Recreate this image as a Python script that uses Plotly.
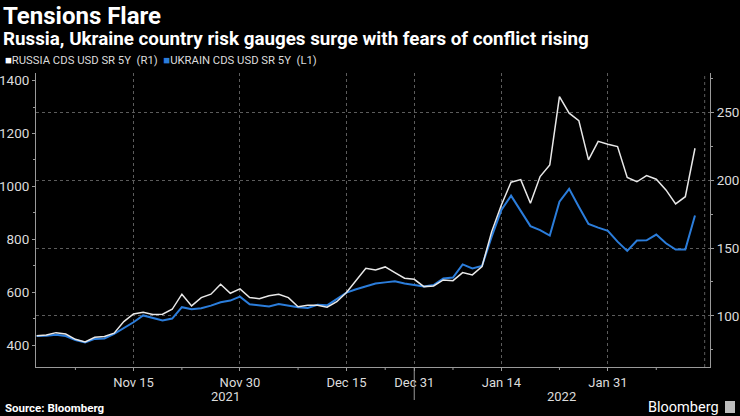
import plotly.graph_objects as go

# ---- data ----
dates = [
    "2021-11-01", "2021-11-02", "2021-11-03", "2021-11-04", "2021-11-05",
    "2021-11-08", "2021-11-09", "2021-11-10", "2021-11-11", "2021-11-12",
    "2021-11-15", "2021-11-16", "2021-11-17", "2021-11-18", "2021-11-19",
    "2021-11-22", "2021-11-23", "2021-11-24", "2021-11-25", "2021-11-26",
    "2021-11-29", "2021-11-30", "2021-12-01", "2021-12-02", "2021-12-03",
    "2021-12-06", "2021-12-07", "2021-12-08", "2021-12-09", "2021-12-10",
    "2021-12-13", "2021-12-14", "2021-12-15", "2021-12-16", "2021-12-17",
    "2021-12-20", "2021-12-21", "2021-12-22", "2021-12-23", "2021-12-31",
    "2022-01-04", "2022-01-05", "2022-01-06", "2022-01-07",
    "2022-01-10", "2022-01-11", "2022-01-12", "2022-01-13", "2022-01-14",
    "2022-01-17", "2022-01-18", "2022-01-19", "2022-01-20", "2022-01-21",
    "2022-01-24", "2022-01-25", "2022-01-26", "2022-01-27", "2022-01-28",
    "2022-01-31", "2022-02-01", "2022-02-02", "2022-02-03", "2022-02-04",
    "2022-02-07", "2022-02-08", "2022-02-09", "2022-02-10", "2022-02-11",
]

russia_cds = [
    85.5, 86.0, 87.7, 86.7, 82.8, 80.9, 84.3, 84.8, 87.3, 95.8,
    101.5, 102.7, 101.0, 101.3, 104.9, 116.0, 107.4, 113.5, 116.0, 123.3,
    116.7, 119.9, 113.5, 112.7, 114.9, 116.0, 113.5, 106.8, 107.9, 107.9,
    106.4, 110.5, 117.2, 126.5, 135.1, 133.9, 136.1, 131.9, 127.8, 127.0,
    121.6, 122.1, 126.5, 126.0, 131.9, 130.2, 136.3, 162.1, 181.7, 198.5,
    200.4, 183.0, 202.6, 211.2, 261.5, 249.3, 243.8, 214.9, 228.6, 226.4,
    224.7, 202.0, 198.8, 203.3, 200.7, 192.8, 182.5, 187.8, 223.5,
]

ukraine_cds = [
    434, 435, 439, 434, 419, 410, 423, 425, 442, 463,
    486, 512, 501, 493, 500, 543, 535, 539, 549, 562,
    568, 583, 554, 549, 546, 555, 549, 543, 540, 552,
    550, 573, 598, 611, 621, 633, 637, 641, 633, 627,
    621, 627, 652, 655, 705, 690, 699, 810, 911, 965,
    907, 850, 835, 814, 942, 991, 923, 858, 844, 832,
    791, 756, 795, 796, 818, 785, 761, 761, 890,
]

tick_dates = ["2021-11-15", "2021-11-30", "2021-12-15", "2021-12-31", "2022-01-14", "2022-01-31"]
tick_labels = ["Nov 15", "Nov 30", "Dec 15", "Dec 31", "Jan 14", "Jan 31"]
minor_tick_dates = ["2021-11-05", "2021-11-22", "2021-12-08", "2021-12-21", "2022-01-07", "2022-01-24", "2022-02-07"]
year_labels = ["2021", "2022"]

# ---- style ----
WHITE = "#e8e8e8"
BLUE = "#2b7ddb"
GRID = "#5c5c5c"
AXIS = "#9a9a9a"
TXT = "#dcdcdc"
FONT = "Roboto"

# plot area in pixels
L, R, T, B = 36, 710, 73, 367
W, H = R - L, B - T


def px(x):
    return (x - L) / W


def py(y):
    return (B - y) / H


fig = go.Figure()
fig.add_trace(go.Scatter(x=dates, y=russia_cds, mode="lines", yaxis="y2",
                         line=dict(color=WHITE, width=1.5), name="RUSSIA CDS USD SR 5Y (R1)"))
fig.add_trace(go.Scatter(x=dates, y=ukraine_cds, mode="lines", yaxis="y",
                         line=dict(color=BLUE, width=2), name="UKRAIN CDS USD SR 5Y (L1)"))

shapes = []
sep = dates.index("2021-12-31")
shapes.append(dict(type="line", xref="x", yref="paper", x0=sep, x1=sep, y0=0, y1=py(400),
                   line=dict(color=AXIS, width=1)))
shapes.append(dict(type="line", xref="x", yref="paper", x0=len(dates), x1=len(dates), y0=0, y1=1,
                   line=dict(color=GRID, width=1, dash="dot")))
for d in minor_tick_dates:
    i = dates.index(d)
    shapes.append(dict(type="line", xref="x", yref="paper", x0=i, x1=i, y0=0, y1=py(370),
                       line=dict(color=AXIS, width=1)))
shapes.append(dict(type="rect", xref="paper", yref="paper", x0=px(725), x1=px(735), y0=py(413), y1=py(401),
                   fillcolor="#bdbdbd", line=dict(width=0)))

annotations = [
    dict(text="<b>Tensions Flare</b>", x=px(1), y=py(16), xanchor="left", yanchor="middle",
         font=dict(size=24, color="#ffffff", family=FONT)),
    dict(text="<b>Russia, Ukraine country risk gauges surge with fears of conflict rising</b>",
         x=px(1), y=py(39.5), xanchor="left", yanchor="middle",
         font=dict(size=18.8, color="#ffffff", family=FONT)),
    dict(text=f'<span style="color:#ffffff">■</span>RUSSIA CDS USD SR 5Y\u00a0\u00a0(R1)\u00a0\u00a0'
              f'<span style="color:{BLUE}">■</span>UKRAIN CDS USD SR 5Y\u00a0\u00a0(L1)',
         x=px(3), y=py(61), xanchor="left", yanchor="middle",
         font=dict(size=11.3, color=TXT, family=FONT)),
    dict(text=year_labels[0], x=px(225), y=py(396), xanchor="center", yanchor="middle",
         font=dict(size=13, color=TXT, family=FONT)),
    dict(text=year_labels[1], x=px(561), y=py(396), xanchor="center", yanchor="middle",
         font=dict(size=13, color=TXT, family=FONT)),
    dict(text="<b>Source: Bloomberg</b>", x=px(3), y=py(408), xanchor="left", yanchor="middle",
         font=dict(size=11.5, color="#ffffff", family=FONT)),
    dict(text="Bloomberg", x=px(721), y=py(407), xanchor="right", yanchor="middle",
         font=dict(size=14.5, color="#ffffff", family=FONT)),
]
for a in annotations:
    a.update(xref="paper", yref="paper", showarrow=False)

fig.update_layout(
    width=740, height=416,
    paper_bgcolor="black", plot_bgcolor="black",
    margin=dict(l=L, r=740 - R, t=T, b=416 - B, pad=0, autoexpand=False),
    showlegend=False,
    font=dict(family=FONT, color=TXT, size=13.5),
    xaxis=dict(type="category", range=[-0.07, 69.55], automargin=False,
               tickmode="array", tickvals=tick_dates, ticktext=tick_labels,
               showgrid=True, gridcolor=GRID, griddash="dot", gridwidth=1,
               showline=True, linecolor=AXIS, linewidth=1,
               ticks="outside", ticklen=3, tickcolor=AXIS,
               tickfont=dict(size=13, color=TXT), zeroline=False),
    yaxis=dict(range=[316.8, 1429.1], tick0=0, dtick=200, automargin=False,
               showgrid=False, zeroline=False,
               showline=True, linecolor=AXIS, linewidth=1,
               ticks="outside", ticklen=3, tickcolor=AXIS,
               minor=dict(dtick=100, tick0=0, ticks="outside", ticklen=2, tickcolor=AXIS, showgrid=False),
               tickfont=dict(size=13.5, color=TXT)),
    yaxis2=dict(range=[62.4, 278.9], tick0=0, dtick=50, overlaying="y", side="right", automargin=False,
                showgrid=True, gridcolor=GRID, griddash="dot", gridwidth=1, zeroline=False,
                showline=True, linecolor=AXIS, linewidth=1,
                ticks="outside", ticklen=3, tickcolor=AXIS,
                minor=dict(dtick=25, tick0=0, ticks="outside", ticklen=2, tickcolor=AXIS, showgrid=False),
                tickfont=dict(size=13.5, color=TXT)),
    shapes=shapes,
    annotations=annotations,
)

fig.write_html("out.html", config={"displayModeBar": False},
               post_script="document.body.style.margin='0';document.body.style.overflow='hidden';")
